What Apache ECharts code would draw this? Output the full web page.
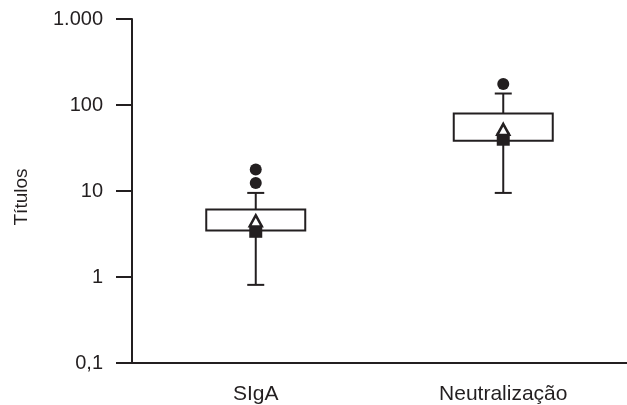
<!DOCTYPE html>
<html>
<head>
<meta charset="utf-8">
<script src="https://cdn.jsdelivr.net/npm/echarts@6/dist/echarts.min.js"></script>
<style>html,body{margin:0;padding:0;background:#fff}#c{width:627px;height:405px}</style>
</head>
<body>
<div id="c"></div>
<script>
var categories = ['SIgA', 'Neutralização'];
var whiskerLow = [0.81, 9.5];
var boxLow = [3.48, 38.5];
var boxHigh = [6.1, 79.8];
var whiskerHigh = [9.5, 136];
var squareVals = [3.4, 40];
var triangleVals = [4.5, 52];
var outlierCat = [0, 0, 1];
var outlierVals = [12.4, 17.8, 176];
var yTickLabels = ['0,1', '1', '10', '100', '1.000'];

var ink = '#231f20';
var font = '"Liberation Sans", Arial, Helvetica, sans-serif';

var boxData = categories.map(function (c, i) {
  return [i, whiskerLow[i], boxLow[i], boxHigh[i], whiskerHigh[i]];
});

function renderBox(params, api) {
  var x = api.value(0);
  var pLow = api.coord([x, api.value(1)]);
  var pQ1 = api.coord([x, api.value(2)]);
  var pQ3 = api.coord([x, api.value(3)]);
  var pHigh = api.coord([x, api.value(4)]);
  var band = api.size([1, 0])[0];
  var hw = band * 0.2;
  var cap = 8.5;
  var cx = pLow[0];
  var ls = {stroke: ink, lineWidth: 2, fill: null};
  return {
    type: 'group',
    children: [
      {type: 'line', shape: {x1: cx, y1: pLow[1], x2: cx, y2: pQ1[1]}, style: ls},
      {type: 'line', shape: {x1: cx, y1: pQ3[1], x2: cx, y2: pHigh[1]}, style: ls},
      {type: 'line', shape: {x1: cx - cap, y1: pLow[1], x2: cx + cap, y2: pLow[1]}, style: ls},
      {type: 'line', shape: {x1: cx - cap, y1: pHigh[1], x2: cx + cap, y2: pHigh[1]}, style: ls},
      {type: 'rect', shape: {x: cx - hw, y: pQ3[1], width: hw * 2, height: pQ1[1] - pQ3[1]},
        style: {stroke: ink, lineWidth: 2, fill: '#fff'}}
    ]
  };
}

var chart = echarts.init(document.getElementById('c'), null, {renderer: 'canvas'});
chart.setOption({
  animation: false,
  backgroundColor: '#fff',
  grid: {left: 132, right: 0, top: 19, bottom: 41},
  xAxis: {
    type: 'category',
    data: categories,
    boundaryGap: true,
    axisLine: {lineStyle: {color: ink, width: 2}},
    axisTick: {show: false},
    axisLabel: {color: ink, fontSize: 21, fontFamily: font, margin: 21}
  },
  yAxis: {
    type: 'log',
    logBase: 10,
    min: 0.1,
    max: 1000,
    name: 'Títulos',
    nameLocation: 'middle',
    nameGap: 101,
    nameTextStyle: {color: ink, fontSize: 19, fontFamily: font, padding: [0, 12, 0, 0]},
    axisLine: {show: true, lineStyle: {color: ink, width: 2}},
    axisTick: {show: true, length: 16, lineStyle: {color: ink, width: 2}},
    minorTick: {show: false},
    splitLine: {show: false},
    axisLabel: {
      color: ink, fontSize: 20, fontFamily: font, margin: 29,
      formatter: function (v) {
        var k = Math.round(Math.log10(v)) + 1;
        return yTickLabels[k];
      }
    }
  },
  series: [
    {type: 'custom', renderItem: renderBox, data: boxData, z: 2},
    {
      type: 'scatter', symbol: 'rect', symbolSize: [13, 13], z: 3,
      itemStyle: {color: ink, opacity: 1},
      data: squareVals.map(function (v, i) { return [i, v]; })
    },
    {
      type: 'scatter', symbol: 'triangle', symbolSize: [12, 11], z: 4,
      itemStyle: {color: '#fff', borderColor: ink, borderWidth: 2.5, opacity: 1},
      data: triangleVals.map(function (v, i) { return [i, v]; })
    },
    {
      type: 'scatter', symbol: 'circle', symbolSize: 12, z: 5,
      itemStyle: {color: ink, opacity: 1},
      data: outlierVals.map(function (v, i) { return [outlierCat[i], v]; })
    }
  ]
});
</script>
</body>
</html>
